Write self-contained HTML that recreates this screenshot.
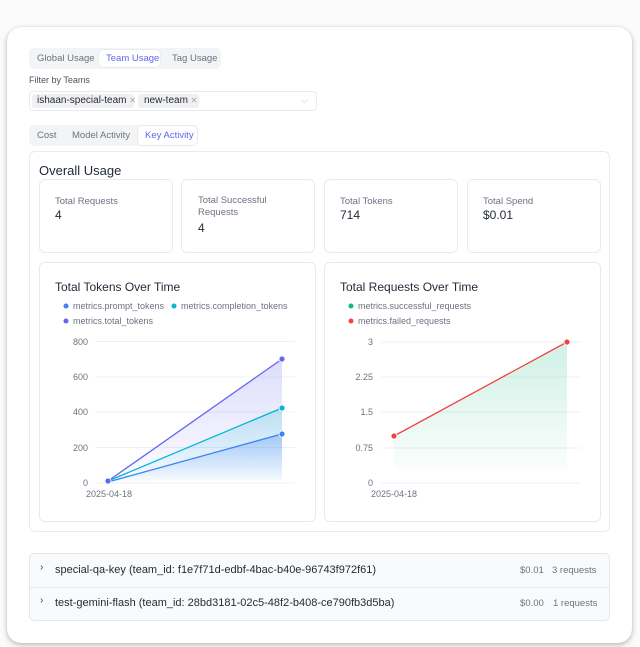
<!DOCTYPE html>
<html><head><style>
*{box-sizing:border-box;margin:0;padding:0}
body{width:640px;height:647px;background:#fbfbfb;font-family:"Liberation Sans",sans-serif;position:relative;overflow:hidden;color:#374151}
.abs{position:absolute}
.card{position:absolute;left:7px;top:27px;width:625px;height:616px;background:#fff;border-radius:14px;box-shadow:0 2px 6px rgba(0,0,0,.25),0 0 1px rgba(0,0,0,.2)}
.box{position:absolute;border:1px solid #e8eaed;border-radius:6px;background:#fff}
.t9{font-size:9.5px;color:#6b7280}
.lbl{font-size:9px;color:#6b7280}
</style></head><body>
<div class="card"></div>
<div class="abs" style="left:29px;top:48px;width:192px;height:21px;background:#f3f4f6;border-radius:5px"></div>
<div class="abs" style="left:99px;top:50px;width:61px;height:17px;background:#fff;border-radius:4px;box-shadow:0 0 1px rgba(0,0,0,.2)"></div>
<div class="abs t9" style="left:37px;top:53px">Global Usage</div>
<div class="abs t9" style="left:106px;top:53px;color:#6366f1">Team Usage</div>
<div class="abs t9" style="left:172px;top:53px">Tag Usage</div>
<div class="abs" style="left:29px;top:75px;font-size:9px;color:#4b5563">Filter by Teams</div>
<div class="box" style="left:29px;top:91px;width:288px;height:20px;border-radius:4px"></div>
<div class="abs" style="left:32px;top:94px;width:102px;height:14px;background:#f0f0f0;border-radius:3px"></div>
<div class="abs" style="left:37px;top:95px;font-size:10px;color:#1f2937">ishaan-special-team <span style="color:#9ca3af;font-size:8px">✕</span></div>
<div class="abs" style="left:138px;top:94px;width:61px;height:14px;background:#f0f0f0;border-radius:3px"></div>
<div class="abs" style="left:144px;top:95px;font-size:10px;color:#1f2937">new-team <span style="color:#9ca3af;font-size:8px">✕</span></div>
<div class="abs" style="left:301px;top:95px;font-size:9px;color:#c0c4cc">⌵</div>
<div class="abs" style="left:29px;top:125px;width:169px;height:21px;background:#f3f4f6;border-radius:5px"></div>
<div class="abs" style="left:138px;top:126px;width:59px;height:19px;background:#fff;border-radius:4px;box-shadow:0 0 1px rgba(0,0,0,.25)"></div>
<div class="abs t9" style="left:37px;top:130px">Cost</div>
<div class="abs t9" style="left:72px;top:130px">Model Activity</div>
<div class="abs t9" style="left:145px;top:130px;color:#6366f1">Key Activity</div>
<div class="box" style="left:29px;top:151px;width:581px;height:381px"></div>
<div class="abs" style="left:39px;top:163px;font-size:13px;color:#1f2937">Overall Usage</div>
<div class="box" style="left:39px;top:179px;width:134px;height:74px"></div>
<div class="abs t9" style="left:55px;top:196px">Total Requests</div>
<div class="abs" style="left:55px;top:208px;font-size:12px;color:#1f2937">4</div>
<div class="box" style="left:181px;top:179px;width:134px;height:74px"></div>
<div class="abs t9" style="left:198px;top:195px;line-height:12px">Total Successful<br>Requests</div>
<div class="abs" style="left:198px;top:221px;font-size:12px;color:#1f2937">4</div>
<div class="box" style="left:324px;top:179px;width:134px;height:74px"></div>
<div class="abs t9" style="left:340px;top:196px">Total Tokens</div>
<div class="abs" style="left:340px;top:208px;font-size:12px;color:#1f2937">714</div>
<div class="box" style="left:467px;top:179px;width:134px;height:74px"></div>
<div class="abs t9" style="left:483px;top:196px">Total Spend</div>
<div class="abs" style="left:483px;top:208px;font-size:12px;color:#1f2937">$0.01</div>
<div class="box" style="left:39px;top:262px;width:277px;height:260px"></div>
<div class="box" style="left:324px;top:262px;width:277px;height:260px"></div>
<svg class="abs" style="left:0;top:0" width="640" height="647" font-family="Liberation Sans, sans-serif">
<defs>
<linearGradient id="g1" x1="0" y1="0" x2="0" y2="1"><stop offset="0" stop-color="#6366f1" stop-opacity=".22"/><stop offset="1" stop-color="#6366f1" stop-opacity=".02"/></linearGradient>
<linearGradient id="g2" x1="0" y1="0" x2="0" y2="1"><stop offset="0" stop-color="#06b6d4" stop-opacity=".2"/><stop offset="1" stop-color="#06b6d4" stop-opacity=".02"/></linearGradient>
<linearGradient id="g3" x1="0" y1="0" x2="0" y2="1"><stop offset="0" stop-color="#3b82f6" stop-opacity=".3"/><stop offset="1" stop-color="#3b82f6" stop-opacity="0"/></linearGradient>
<linearGradient id="g4" x1="0" y1="0" x2="0" y2="1"><stop offset="0" stop-color="#10b981" stop-opacity=".2"/><stop offset="1" stop-color="#10b981" stop-opacity=".02"/></linearGradient>
</defs>
<text x="55" y="291" font-size="12" fill="#1f2937" font-weight="500">Total Tokens Over Time</text>
<circle cx="66" cy="306" r="2.5" fill="#3b82f6"/><text x="73" y="309" font-size="9" fill="#6b7280">metrics.prompt_tokens</text>
<circle cx="174" cy="306" r="2.5" fill="#06b6d4"/><text x="181" y="309" font-size="9" fill="#6b7280">metrics.completion_tokens</text>
<circle cx="66" cy="321" r="2.5" fill="#6366f1"/><text x="73" y="324" font-size="9" fill="#6b7280">metrics.total_tokens</text>
<g stroke="#eef0f3" stroke-width="1">
<line x1="95" y1="341.5" x2="295" y2="341.5"/><line x1="95" y1="377" x2="295" y2="377"/><line x1="95" y1="412" x2="295" y2="412"/><line x1="95" y1="447.5" x2="295" y2="447.5"/><line x1="95" y1="483" x2="295" y2="483"/>
<line x1="381" y1="342" x2="580" y2="342"/><line x1="381" y1="377" x2="580" y2="377"/><line x1="381" y1="412" x2="580" y2="412"/><line x1="381" y1="448" x2="580" y2="448"/><line x1="381" y1="483" x2="580" y2="483"/>
</g>
<g font-size="9" fill="#6b7280" text-anchor="end">
<text x="88" y="345">800</text><text x="88" y="380">600</text><text x="88" y="415">400</text><text x="88" y="451">200</text><text x="88" y="486">0</text>
<text x="373" y="345">3</text><text x="373" y="380">2.25</text><text x="373" y="415">1.5</text><text x="373" y="451">0.75</text><text x="373" y="486">0</text>
</g>
<text x="86" y="497" font-size="9" fill="#6b7280">2025-04-18</text>
<text x="371" y="497" font-size="9" fill="#6b7280">2025-04-18</text>
<path d="M108 481 L282 359 L282 480 Z" fill="url(#g1)"/>
<path d="M108 481 L282 408 L282 480 Z" fill="url(#g2)"/>
<path d="M108 481 L282 434 L282 480 Z" fill="url(#g3)"/>
<line x1="108" y1="481" x2="282" y2="359" stroke="#6366f1" stroke-width="1.3"/>
<line x1="108" y1="481" x2="282" y2="408" stroke="#06b6d4" stroke-width="1.3"/>
<line x1="108" y1="482" x2="282" y2="434" stroke="#3b82f6" stroke-width="1.3"/>
<circle cx="282" cy="359" r="3" fill="#6366f1" stroke="#fff" stroke-width=".8"/>
<circle cx="282" cy="408" r="3" fill="#06b6d4" stroke="#fff" stroke-width=".8"/>
<circle cx="282" cy="434" r="3" fill="#3b82f6" stroke="#fff" stroke-width=".8"/>
<circle cx="108" cy="481" r="3" fill="#6366f1" stroke="#fff" stroke-width=".8"/>
<text x="340" y="291" font-size="12" fill="#1f2937" font-weight="500">Total Requests Over Time</text>
<circle cx="351" cy="306" r="2.5" fill="#10b981"/><text x="358" y="309" font-size="9" fill="#6b7280">metrics.successful_requests</text>
<circle cx="351" cy="321" r="2.5" fill="#ef4444"/><text x="358" y="324" font-size="9" fill="#6b7280">metrics.failed_requests</text>
<path d="M394 436 L567 342 L567 470 L394 470 Z" fill="url(#g4)"/>
<line x1="394" y1="436" x2="567" y2="342" stroke="#ef4444" stroke-width="1.3"/>
<circle cx="394" cy="436" r="3" fill="#ef4444" stroke="#fff" stroke-width=".8"/>
<circle cx="567" cy="342" r="3" fill="#ef4444" stroke="#fff" stroke-width=".8"/>
</svg>
<div class="abs" style="left:29px;top:553px;width:581px;height:68px;background:#f9fafb;border:1px solid #e5e7eb;border-radius:5px"></div>
<div class="abs" style="left:29px;top:587px;width:581px;height:1px;background:#e5e7eb"></div>
<div class="abs" style="left:40px;top:562px;font-size:10px;color:#374151">›</div>
<div class="abs" style="left:55px;top:564px;font-size:11px;color:#1f2937">special-qa-key (team_id: f1e7f71d-edbf-4bac-b40e-96743f972f61)</div>
<div class="abs lbl" style="left:520px;top:565px;font-size:9.5px">$0.01</div>
<div class="abs lbl" style="left:552px;top:565px;font-size:9.5px">3 requests</div>
<div class="abs" style="left:40px;top:595px;font-size:10px;color:#374151">›</div>
<div class="abs" style="left:55px;top:597px;font-size:11px;color:#1f2937">test-gemini-flash (team_id: 28bd3181-02c5-48f2-b408-ce790fb3d5ba)</div>
<div class="abs lbl" style="left:520px;top:598px;font-size:9.5px">$0.00</div>
<div class="abs lbl" style="left:553px;top:598px;font-size:9.5px">1 requests</div>
</body></html>
